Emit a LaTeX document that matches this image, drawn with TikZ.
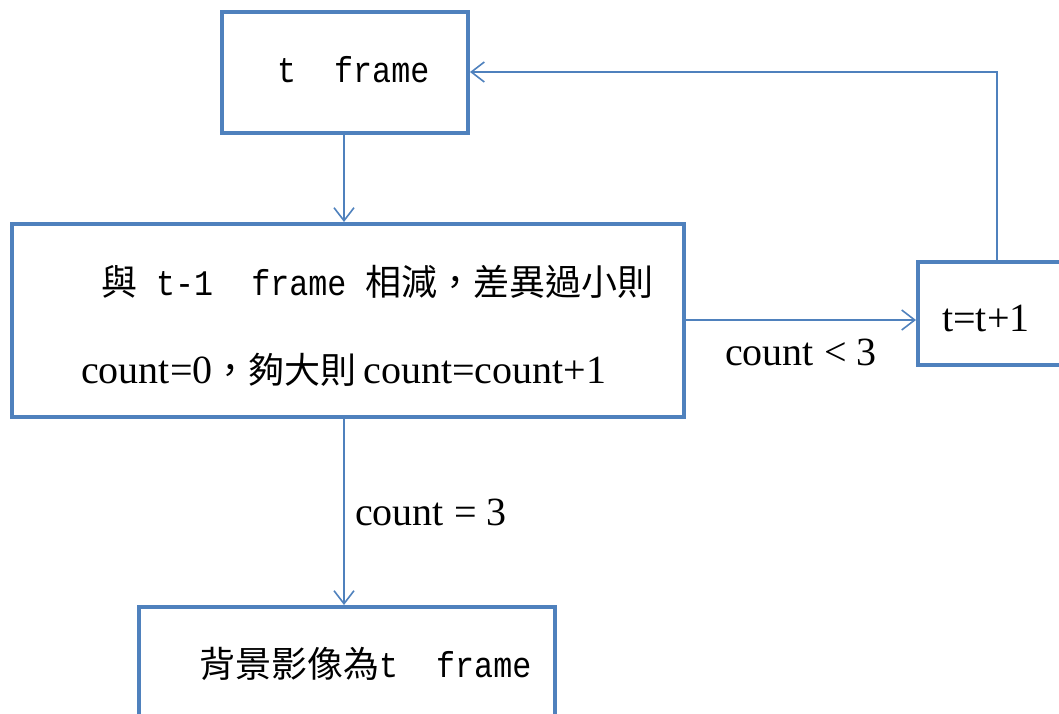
\documentclass[tikz,border=0pt]{standalone}
\usepackage{fontspec}
\setmainfont{Liberation Serif}
\newfontfamily\monoz[FakeStretch=0.88]{Liberation Mono}
\newfontfamily\cjk{Noto Sans CJK TC}
\usetikzlibrary{arrows.meta}
\definecolor{lineblue}{HTML}{4F81BD}

% CJK runs, fixed-width Latin runs and proportional Latin runs
\newcommand{\zh}[1]{{\cjk\fontsize{36}{40}\selectfont #1}}
\newcommand{\mn}[1]{{\monoz\fontsize{36}{40}\selectfont #1}}
\newcommand{\lat}{\fontsize{40}{46}\selectfont}

\tikzset{
  box/.style={draw=lineblue, line width=4pt, fill=white, inner sep=0pt},
  conn/.style={draw=lineblue, line width=1.8pt,
    -{Straight Barb[length=13pt,width=20pt,line width=1.6pt]}},
  txt/.style={anchor=base west, inner sep=0pt, text=black},
}

\begin{document}
\begin{tikzpicture}[x=1pt,y=-1pt]
\useasboundingbox (0,0) rectangle (1059,713);
\clip (0,0) rectangle (1059,713);

% boxes
\node[box, minimum width=246pt, minimum height=121pt] (tf)  at (345,72.5) {};
\node[box, minimum width=672pt, minimum height=193pt] (sub) at (348,320.5) {};
\node[box, minimum width=158pt, minimum height=103pt] (inc) at (997,313.5) {};
\node[box, minimum width=416pt, minimum height=121pt] (bg)  at (347,667.5) {};

% box texts
\node[txt] (tft) at (277,82) {\mn{t\ \ frame}};
\node[txt] (sub1) at (101,295) {\zh{與}\mn{\ t-1\ \ frame\ }\zh{相減，差異過小則}};
\node[txt] (sub2) at (81,383) {\lat count=0\zh{，夠大則}\,count=count+1};
\node[txt] (inct) at (942,331) {\lat t=t+1};
\node[txt] (bgt) at (199,677) {\zh{背景影像為}\mn{t\ \ frame}};

% connectors
\coordinate (turn1) at (997,72);
\draw[conn] (tf.south -| 344,0) -- (sub.north -| 344,0);
\draw[conn] (sub.east |- 0,320) -- (inc.west |- 0,320);
\draw[conn] (inc.north) -- (turn1) -- (tf.east |- turn1);
\draw[conn] (sub.south -| 344,0) -- (bg.north -| 344,0);

% connector labels
\node[txt] (lt) at (725,365) {\lat count < 3};
\node[txt] (eq) at (355,525) {\lat count = 3};
\end{tikzpicture}
\end{document}
